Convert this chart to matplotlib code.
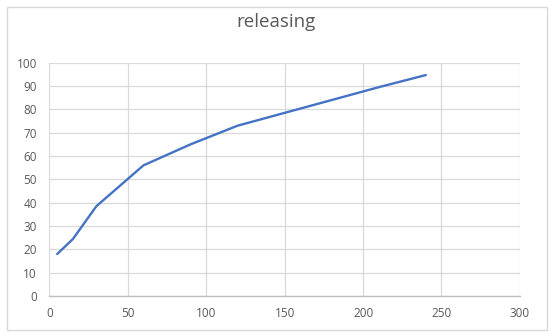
import matplotlib.pyplot as plt
from matplotlib.patches import Rectangle

time_s = [5, 15, 30, 60, 90, 120, 150, 180, 210, 240]
released = [18, 24.4, 38.5, 56, 65, 73, 78.5, 84, 89.5, 94.7]

x_ticks = [0, 50, 100, 150, 200, 250, 300]
y_ticks = [0, 10, 20, 30, 40, 50, 60, 70, 80, 90, 100]

text_color = "#595959"
grid_color = "#D9D9D9"

plt.rcParams["font.family"] = ["Open Sans", "DejaVu Sans"]

fig = plt.figure(figsize=(5.53, 3.36), dpi=100)
ax = fig.add_axes([0.0892, 0.119, 0.851, 0.6944])

ax.plot(time_s, released, color="#4472C4", linewidth=1.7, solid_capstyle="round")

ax.set_xlim(0, 300)
ax.set_ylim(0, 100)
ax.set_xticks(x_ticks)
ax.set_yticks(y_ticks)
ax.grid(True, color=grid_color, linewidth=0.9)
ax.set_axisbelow(True)

for side in ["top", "right", "left"]:
    ax.spines[side].set_visible(False)
ax.spines["bottom"].set_color("#BFBFBF")
ax.spines["bottom"].set_linewidth(1.0)

ax.tick_params(length=0, labelsize=8.5, labelcolor=text_color, pad=8)
ax.tick_params(axis="y", pad=9)

fig.text(0.5, 0.935, "releasing", ha="center", va="center",
         fontsize=13.5, color=text_color)

# chart frame like the spreadsheet export
fig.patches.append(Rectangle((7 / 553, 6 / 336), 540 / 553, 323 / 336,
                             transform=fig.transFigure, fill=False,
                             edgecolor="#D9D9D9", linewidth=1.0))

fig.savefig("out.png", dpi=100)
plt.close(fig)
